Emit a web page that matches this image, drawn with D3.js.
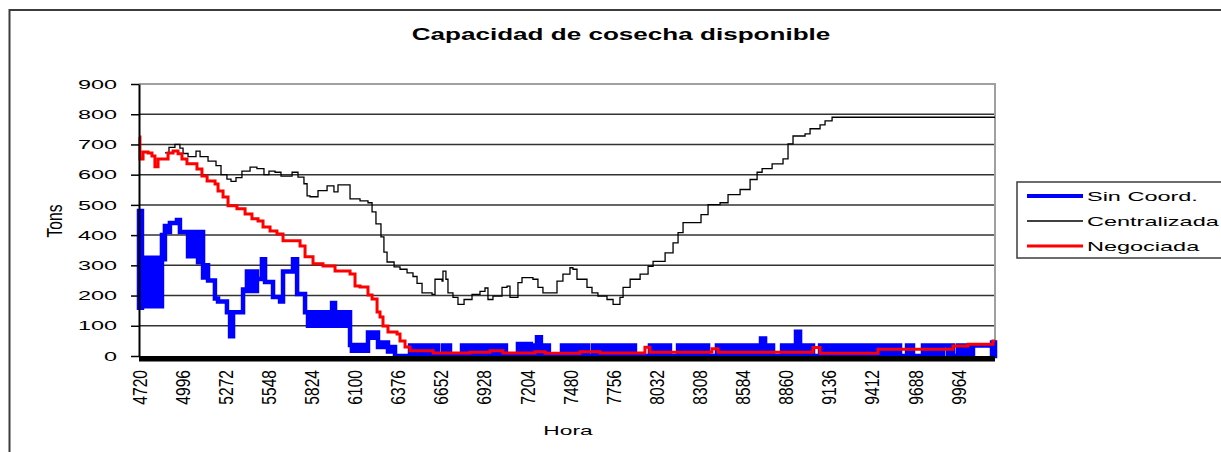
<!DOCTYPE html>
<html>
<head>
<meta charset="utf-8">
<script src="https://cdn.jsdelivr.net/npm/d3@7"></script>
<style>
  body { margin: 0; background: #fff; }
  svg { display: block; font-family: "Liberation Sans", Arial, sans-serif; }
</style>
</head>
<body>
<div id="chart"></div>
<script>
const width = 1221,
  height = 452,
  plot = { left: 139, right: 995, top: 84, bottom: 356 };

// axis ticks
const yTicks = [0, 100, 200, 300, 400, 500, 600, 700, 800, 900];
const xTicks = [4720, 4996, 5272, 5548, 5824, 6100, 6376, 6652, 6928, 7204,
  7480, 7756, 8032, 8308, 8584, 8860, 9136, 9412, 9688, 9964];

// Sin Coord. : hour, lower and upper edge of the (fast oscillating) line
const sinHours = [
  4720, 4739, 4867, 4886, 4918, 4963, 4982, 5034, 5098, 5130,
  5162, 5206, 5226, 5283, 5303, 5322, 5386, 5411, 5475, 5507,
  5527, 5578, 5623, 5642, 5706, 5732, 5783, 5802, 5956, 5975,
  6071, 6083, 6186, 6250, 6314, 6359,
  6455, 6500, 6525, 6564, 6583, 6634, 6666, 6711, 6788, 6916,
  6935, 7069, 7146, 7229, 7242, 7268, 7293, 7344, 7428, 7594,
  7626, 7895, 7991, 8119, 8171, 8228, 8248, 8363, 8420, 8587,
  8612, 8677, 8683, 8702, 8728, 8779, 8837, 8926, 8952, 9035,
  9080, 9253, 9272, 9541, 9560, 9592, 9637, 9675, 9739, 9867,
  9899, 9931, 9963, 10059, 10181, 10200
];
const sinLow = [
  160, 165, 320, 410, 440, 450, 410, 330, 310, 260,
  250, 190, 180, 145, 65, 145, 220, 215, 255, 255,
  245, 195, 180, 280, 280, 205, 145, 100, 100, 100,
  36, 17, 60, 30, 15, 0,
  0, 0, 0, 0, 0, 0, 0, 0, 0, 0,
  0, 0, 0, 0, 0, 0, 0, 0, 0, 0,
  0, 0, 0, 0, 0, 0, 0, 0, 0, 0,
  0, 0, 0, 0, 0, 0, 0, 0, 0, 0,
  0, 0, 0, 0, 0, 0, 0, 0, 0, 35,
  0, 0, 0, 35, 0, 0
];
const sinHigh = [
  480, 325, 400, 430, 440, 450, 410, 410, 410, 300,
  250, 190, 180, 145, 145, 145, 220, 280, 255, 320,
  245, 195, 180, 280, 320, 205, 145, 145, 175, 145,
  36, 36, 78, 45, 30, 0,
  35, 0, 35, 0, 35, 0, 35, 0, 35, 0,
  35, 0, 40, 0, 35, 62, 35, 0, 35, 0,
  35, 0, 35, 0, 35, 0, 35, 0, 35, 0,
  35, 0, 35, 58, 35, 0, 35, 80, 35, 0,
  35, 0, 35, 0, 35, 0, 35, 0, 35, 35,
  35, 0, 35, 35, 45, 45
];

// Centralizada
const centHours = [
  4886, 4912, 4950, 4982, 5002, 5034, 5085, 5111, 5162, 5213,
  5245, 5283, 5309, 5341, 5379, 5431, 5475, 5520, 5552, 5591,
  5629, 5700, 5738, 5776, 5796, 5815, 5866, 5924, 5968, 5994,
  6071, 6135, 6186, 6212, 6237, 6269, 6288, 6308, 6353, 6391,
  6436, 6474, 6500, 6532, 6596, 6615, 6660, 6666, 6685, 6698,
  6730, 6762, 6801, 6852, 6903, 6935, 6954, 6986, 7044, 7076,
  7095, 7146, 7172, 7242, 7274, 7306, 7396, 7434, 7479, 7498,
  7524, 7588, 7620, 7658, 7716, 7755, 7799, 7819, 7864, 7928,
  7979, 8011, 8088, 8139, 8171, 8203, 8318, 8363, 8440, 8491,
  8568, 8632, 8677, 8709, 8773, 8843, 8875, 8907, 8984, 9016,
  9080, 9112, 9157, 10200
];
const centValues = [
  672, 690, 700, 688, 670, 660, 678, 660, 645, 630,
  600, 585, 578, 590, 612, 625, 620, 600, 612, 608,
  595, 608, 592, 570, 530, 527, 547, 563, 543, 566,
  520, 513, 507, 477, 437, 394, 344, 311, 295, 287,
  275, 263, 240, 209, 204, 254, 248, 281, 254, 209,
  194, 171, 187, 204, 214, 225, 187, 198, 227, 231,
  194, 243, 259, 254, 227, 209, 248, 271, 292, 287,
  254, 227, 209, 198, 187, 171, 194, 227, 254, 271,
  297, 313, 341, 374, 408, 441, 468, 501, 507, 534,
  551, 584, 608, 620, 636, 652, 702, 728, 735, 752,
  765, 778, 790, 790
];

// Negociada
const negHours = [
  4720, 4726, 4746, 4778, 4803, 4822, 4842, 4906, 4938, 4970,
  4995, 5027, 5091, 5123, 5156, 5207, 5226, 5258, 5290, 5347,
  5399, 5443, 5482, 5514, 5559, 5603, 5642, 5751, 5783, 5834,
  5898, 5975, 6071, 6103, 6135, 6186, 6212, 6244, 6263, 6282,
  6314, 6372, 6391, 6423, 6455, 6603, 6839, 6967, 7050, 7255,
  7319, 7543, 7671, 7959, 7991, 8388, 8427, 9035, 9080, 9451,
  9931, 10027, 10187, 10200
];
const negValues = [
  725, 652, 675, 672, 662, 626, 652, 672, 678, 669,
  652, 636, 619, 596, 579, 569, 546, 526, 497, 487,
  470, 454, 447, 427, 414, 404, 381, 364, 328, 305,
  298, 281, 271, 232, 228, 202, 189, 146, 129, 99,
  79, 73, 50, 30, 17, 10, 12, 17, 10, 14,
  9, 14, 10, 29, 12, 24, 12, 28, 9, 22,
  33, 39, 50, 50
];

const seriesNames = ["Sin Coord.", "Centralizada", "Negociada"];
const seriesColors = ["#0000ff", "#000000", "#ff0000"];

const sinData = sinHours.map((h, i) => ({ h, lo: sinLow[i], hi: sinHigh[i] }));
const centData = centHours.map((h, i) => ({ h, v: centValues[i] }));
const negData = negHours.map((h, i) => ({ h, v: negValues[i] }));

const x = d3.scaleLinear().domain([4720, 10200]).range([plot.left, plot.right]);
const y = d3.scaleLinear().domain([0, 900]).range([plot.bottom, plot.top]);

const svg = d3
  .select("#chart")
  .append("svg")
  .attr("width", width)
  .attr("height", height);

svg.append("rect").attr("width", width).attr("height", height).attr("fill", "#fff");

// outer chart frame
svg
  .append("rect")
  .attr("x", 9.5)
  .attr("y", 10)
  .attr("width", 1300)
  .attr("height", 600)
  .attr("fill", "none")
  .attr("stroke", "#3c3c3c")
  .attr("stroke-width", 2);

// title
svg
  .append("text")
  .attr("transform", "translate(621,40) scale(1.63,1)")
  .attr("text-anchor", "middle")
  .attr("font-size", 16)
  .attr("font-weight", "bold")
  .text("Capacidad de cosecha disponible");

// gridlines
svg
  .append("g")
  .selectAll("line")
  .data(yTicks.filter((d) => d > 0 && d < 900))
  .join("line")
  .attr("x1", plot.left)
  .attr("x2", plot.right)
  .attr("y1", (d) => y(d))
  .attr("y2", (d) => y(d))
  .attr("stroke", "#333")
  .attr("stroke-width", 1.5);

// plot area border (top + right)
svg
  .append("path")
  .attr("d", `M${plot.left},${y(900)}H${plot.right}V${plot.bottom}`)
  .attr("fill", "none")
  .attr("stroke", "#a0a0a0")
  .attr("stroke-width", 2);

// series
const sinArea = d3
  .area()
  .curve(d3.curveStepAfter)
  .x((d) => x(d.h))
  .y0((d) => y(d.lo))
  .y1((d) => y(d.hi));

svg
  .append("path")
  .datum(sinData)
  .attr("d", sinArea)
  .attr("fill", seriesColors[0])
  .attr("stroke", seriesColors[0])
  .attr("stroke-width", 4.5);

const line = d3
  .line()
  .curve(d3.curveStepAfter)
  .x((d) => x(d.h))
  .y((d) => y(d.v));

svg
  .append("path")
  .datum(centData)
  .attr("d", line)
  .attr("fill", "none")
  .attr("stroke", seriesColors[1])
  .attr("stroke-width", 1.3);

svg
  .append("path")
  .datum(negData)
  .attr("d", line)
  .attr("fill", "none")
  .attr("stroke", seriesColors[2])
  .attr("stroke-width", 3);

// heavy x axis band
svg
  .append("line")
  .attr("x1", plot.left)
  .attr("x2", plot.right)
  .attr("y1", y(0) + 2.8)
  .attr("y2", y(0) + 2.8)
  .attr("stroke", "#000")
  .attr("stroke-width", 5.5);

// y axis
const yAxis = svg
  .append("g")
  .attr("transform", `translate(${plot.left},0)`)
  .call(d3.axisLeft(y).tickValues(yTicks).tickSize(8).tickSizeOuter(0).tickFormat(""));
yAxis.select(".domain").attr("stroke", "#000").attr("stroke-width", 2);
yAxis.selectAll(".tick line").attr("stroke", "#000").attr("stroke-width", 1.5);

svg
  .append("g")
  .selectAll("text")
  .data(yTicks)
  .join("text")
  .attr("transform", (d) => `translate(117,${y(d)}) scale(1.8,1)`)
  .attr("dy", "0.36em")
  .attr("text-anchor", "end")
  .attr("font-size", 13)
  .text((d) => d);

// x tick labels (rotated)
svg
  .append("g")
  .selectAll("text")
  .data(xTicks)
  .join("text")
  .attr("transform", (d) => `translate(${x(d) + 7.5},370) scale(1.7,1.3) rotate(-90)`)
  .attr("text-anchor", "end")
  .attr("font-size", 12)
  .text((d) => d);

// axis titles
svg
  .append("text")
  .attr("transform", "translate(62,221) scale(1.9,1.3) rotate(-90)")
  .attr("text-anchor", "middle")
  .attr("font-size", 12)
  .text("Tons");

svg
  .append("text")
  .attr("transform", "translate(568,435) scale(1.75,1)")
  .attr("text-anchor", "middle")
  .attr("font-size", 13)
  .text("Hora");

// legend
const legend = svg.append("g").attr("transform", "translate(1017,182)");
legend
  .append("rect")
  .attr("width", 260)
  .attr("height", 76)
  .attr("fill", "#fff")
  .attr("stroke", "#3c3c3c")
  .attr("stroke-width", 1.5);

const legendWidths = [4, 1.3, 3];
const item = legend
  .selectAll(".item")
  .data(seriesNames)
  .join("g")
  .attr("class", "item")
  .attr("transform", (d, i) => `translate(0,${14 + i * 25})`);

item
  .append("line")
  .attr("x1", 10)
  .attr("x2", 66)
  .attr("stroke", (d, i) => seriesColors[i])
  .attr("stroke-width", (d, i) => legendWidths[i]);

item
  .append("text")
  .attr("transform", "translate(70,0) scale(1.74,1)")
  .attr("dy", "0.36em")
  .attr("font-size", 13.5)
  .text((d) => d);
</script>
</body>
</html>
